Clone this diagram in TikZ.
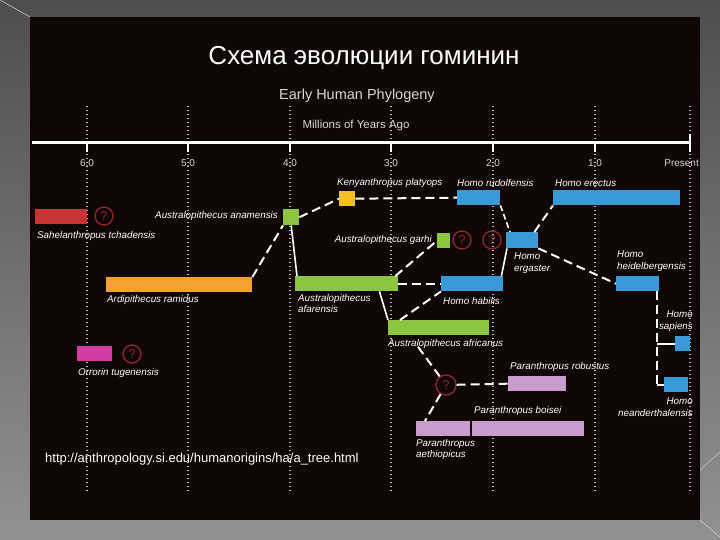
\documentclass[tikz,border=0pt]{standalone}
\usepackage{fontspec}
\setmainfont{Liberation Sans}
\definecolor{panel}{RGB}{16,6,6}
\definecolor{slidetop}{RGB}{78,78,78}
\definecolor{slidebot}{RGB}{145,145,145}
\definecolor{sahelred}{RGB}{200,52,52}
\definecolor{ardiorange}{RGB}{245,160,48}
\definecolor{australgreen}{RGB}{140,198,63}
\definecolor{kenyayellow}{RGB}{247,192,30}
\definecolor{homoblue}{RGB}{58,154,216}
\definecolor{paralilac}{RGB}{200,156,204}
\definecolor{orrmagenta}{RGB}{208,60,160}
\definecolor{qred}{RGB}{140,40,40}
\definecolor{ticktext}{RGB}{215,215,215}
\tikzset{
  bar/.style={rectangle, inner sep=0pt, anchor=north west, minimum height=15},
  lbl/.style={text=white, inner sep=0pt, align=left, font=\fontsize{9.8}{11.2}\selectfont\itshape},
  qmark/.style={circle, draw=qred, line width=1.4pt, minimum size=18, inner sep=0pt, text=qred, font=\fontsize{13}{13}\selectfont},
  link/.style={white, line width=2pt, dash pattern=on 9pt off 5pt},
  joint/.style={white, line width=1.6pt},
  ygrid/.style={white!75!black, line width=1.2pt, dash pattern=on 1.2pt off 2.8pt}
}
\begin{document}
\begin{tikzpicture}[x=1pt,y=1pt,yscale=-1]
  \useasboundingbox (0,0) rectangle (720,540);

  %Shape: slide background
  \shade[top color=slidetop, bottom color=slidebot] (0,0) rectangle (720,540);
  \draw[white!70!gray, line width=0.5pt] (0,0) -- (30,17);
  \draw[white!70!gray, line width=0.5pt] (700,520) -- (720,537);
  \draw[white!60!gray, line width=0.5pt] (700,470) -- (720,452);
  \fill[panel] (30,17) rectangle (700,520);

  % Text Node
  \node[text=white, font=\fontsize{26}{30}\selectfont] (title) at (364,58) {Схема эволюции гоминин};
  \node[text=ticktext, font=\fontsize{14.5}{16}\selectfont] (subtitle) at (357,96) {Early Human Phylogeny};
  \node[text=ticktext, font=\fontsize{11.5}{13}\selectfont] (units) at (356,126) {Millions of Years Ago};

  %Straight Lines: time axis
  \foreach \xx in {87,188,290,391,493,595,690}
    \draw[ygrid] (\xx,106) -- (\xx,492);
  \draw[white, line width=3pt] (32,143) -- (691,143);
  \foreach \xx/\yr/\nm in {87/6.0/ta,188/5.0/tb,290/4.0/tc,391/3.0/td,493/2.0/te,595/1.0/tf}{
    \draw[white, line width=2.5pt] (\xx,143) -- (\xx,152);
    \node[text=ticktext, font=\fontsize{10}{12}\selectfont] (\nm) at (\xx,163) {\yr};
  }
  \draw[white, line width=2.5pt] (690,134) -- (690,152);
  \node[text=ticktext, font=\fontsize{10}{12}\selectfont, anchor=east, inner sep=0pt] (tg) at (699,163) {Present};

  %Shape: species bars
  \node[bar, fill=sahelred, minimum width=52] (sahel) at (35,209) {};
  \node[bar, fill=ardiorange, minimum width=146] (ardi) at (106,277) {};
  \node[bar, fill=australgreen, minimum width=16, minimum height=16] (anam) at (283,209) {};
  \node[bar, fill=kenyayellow, minimum width=16] (kenya) at (339,191) {};
  \node[bar, fill=homoblue, minimum width=43] (rudolf) at (457,190) {};
  \node[bar, fill=homoblue, minimum width=127] (erectus) at (553,190) {};
  \node[bar, fill=australgreen, minimum width=13] (garhi) at (437,233) {};
  \node[bar, fill=homoblue, minimum width=32, minimum height=16] (ergast) at (506,232) {};
  \node[bar, fill=australgreen, minimum width=103] (afar) at (295,276) {};
  \node[bar, fill=homoblue, minimum width=62] (habilis) at (441,276) {};
  \node[bar, fill=homoblue, minimum width=43] (heidel) at (616,276) {};
  \node[bar, fill=australgreen, minimum width=101] (afric) at (388,320) {};
  \node[bar, fill=homoblue, minimum width=15] (sapiens) at (675,336) {};
  \node[bar, fill=homoblue, minimum width=24] (neand) at (664,377) {};
  \node[bar, fill=paralilac, minimum width=58] (robust) at (508,376) {};
  \node[bar, fill=paralilac, minimum width=54] (aethi) at (416,421) {};
  \node[bar, fill=paralilac, minimum width=112] (boisei) at (472,421) {};
  \node[bar, fill=orrmagenta, minimum width=35] (orror) at (77,346) {};

  %Shape: question marks
  \node[qmark] (qsahel) at (104,216) {?};
  \node[qmark] (qgarhi) at (462,240) {?};
  \node[qmark] (qergast) at (492,240) {?};
  \node[qmark] (qorror) at (132,354) {?};
  \node[qmark, minimum size=20] (qpara) at (446,385) {?};

  % Text Node
  \node[lbl, anchor=west] (sahelLbl) at (37,236) {Sahelanthropus tchadensis};
  \node[lbl, anchor=west] (ardiLbl) at (107,300) {Ardipithecus ramidus};
  \node[lbl, anchor=east] (anamLbl) at (278,216) {Australopithecus anamensis};
  \node[lbl, anchor=west] (kenyaLbl) at (337,183) {Kenyanthropus platyops};
  \node[lbl, anchor=west] (rudolfLbl) at (457,183) {Homo rudolfensis};
  \node[lbl, anchor=west] (erectusLbl) at (555,183) {Homo erectus};
  \node[lbl, anchor=east] (garhiLbl) at (432,240) {Australopithecus garhi};
  \node[lbl, anchor=north west] (ergastLbl) at (514,253) {Homo\\ergaster};
  \node[lbl, anchor=north west] (afarLbl) at (298,294) {Australopithecus\\afarensis};
  \node[lbl, anchor=west] (habilisLbl) at (443,301) {Homo habilis};
  \node[lbl, anchor=north west] (heidelLbl) at (617,251) {Homo\\heidelbergensis};
  \node[lbl, anchor=west] (africLbl) at (388,344) {Australopithecus africanus};
  \node[lbl, anchor=north east, align=right] (sapiensLbl) at (693,311) {Homo\\sapiens};
  \node[lbl, anchor=north east, align=right] (neandLbl) at (693,398) {Homo\\neanderthalensis};
  \node[lbl, anchor=west] (robustLbl) at (510,367) {Paranthropus robustus};
  \node[lbl, anchor=west] (boiseiLbl) at (474,411) {Paranthropus boisei};
  \node[lbl, anchor=north west] (aethiLbl) at (416,439) {Paranthropus\\aethiopicus};
  \node[lbl, anchor=west] (orrorLbl) at (78,373) {Orrorin tugenensis};

  %Straight Lines: lineages
  \draw[link] (anam.east) -- (kenya.west);
  \draw[link] (ardi.north east) -- (anam.south west);
  \draw[joint] (anam.south) -- ([xshift=2]afar.north west);
  \draw[link] (kenya.east) -- (rudolf.west);
  \draw[joint, dash pattern=on 6pt off 3pt] (rudolf.south east) -- ([xshift=4]ergast.north west);
  \draw[link] ([xshift=-4]ergast.north east) -- (erectus.south west);
  \draw[link] (ergast.south east) -- (heidel.west);
  \draw[joint] ([xshift=-2]habilis.north east) -- ([xshift=1]ergast.south west);
  \draw[link] (afar.east) -- (habilis.west);
  \draw[link] ([xshift=-3]afar.north east) -- (garhi.west);
  \draw[joint] ([xshift=-19]afar.south east) -- (afric.north west);
  \draw[link] ([xshift=12]afric.north west) -- (habilis.south west);
  \draw[link] ([xshift=30,yshift=-2]africLbl.south west) -- (qpara);
  \draw[link] (qpara) -- (robust.west);
  \draw[link] (qpara) -- ([xshift=9]aethi.north west);
  \coordinate (fork) at ([xshift=-2]heidel.south east);
  \draw[link] (fork) -- (fork |- neand.west);
  \draw[joint] (fork |- sapiens.west) -- (sapiens.west);
  \draw[joint] (fork |- neand.west) -- (neand.west);

  % Text Node
  \node[text=white, font=\fontsize{13}{15}\selectfont, anchor=west, inner sep=0pt] (source) at (45,459) {http://anthropology.si.edu/humanorigins/ha/a\_tree.html};
\end{tikzpicture}
\end{document}
